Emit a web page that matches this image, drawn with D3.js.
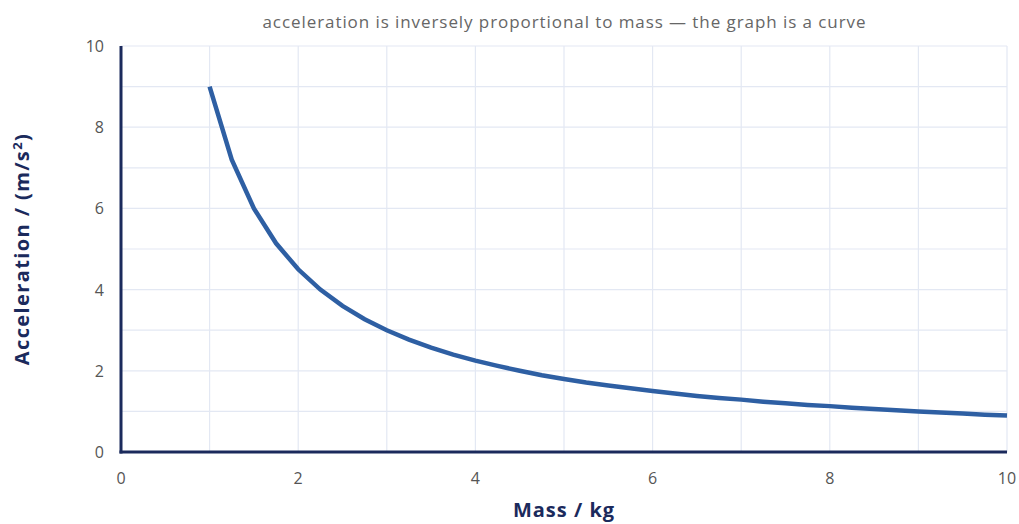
<!DOCTYPE html>
<html>
<head>
<meta charset="utf-8">
<script src="https://cdn.jsdelivr.net/npm/d3@7"></script>
<style>
  body { margin: 0; background: #fff; }
  svg { display: block; font-family: "Open Sans", sans-serif; }
</style>
</head>
<body>
<div id="chart"></div>
<script>
// Данные
const masses = [1, 1.25, 1.5, 1.75, 2, 2.25, 2.5, 2.75, 3, 3.25, 3.5, 3.75, 4, 4.25, 4.5, 4.75,
  5, 5.25, 5.5, 5.75, 6, 6.25, 6.5, 6.75, 7, 7.25, 7.5, 7.75, 8, 8.25, 8.5, 8.75, 9, 9.25, 9.5, 9.75, 10]
const accels = [9, 7.2, 6, 5.14, 4.5, 4, 3.6, 3.27, 3, 2.77, 2.57, 2.4, 2.25, 2.12, 2, 1.89,
  1.8, 1.71, 1.64, 1.57, 1.5, 1.44, 1.38, 1.33, 1.29, 1.24, 1.2, 1.16, 1.13, 1.09, 1.06, 1.03, 1, 0.97, 0.95, 0.92, 0.9]
const xTicks = [0, 2, 4, 6, 8, 10]
const yTicks = [0, 2, 4, 6, 8, 10]
const gridVals = [1, 2, 3, 4, 5, 6, 7, 8, 9, 10]

const W = 1019, H = 524
const mLeft = 121, mRight = 1007, mTop = 46, mBottom = 452

let svg = d3.select("#chart").append("svg")
  .attr("width", W)
  .attr("height", H)

let x = d3.scaleLinear().domain([0, 10]).range([mLeft, mRight])
let y = d3.scaleLinear().domain([0, 10]).range([mBottom, mTop])

// сетка
svg.append("g").selectAll("line").data(gridVals).join("line")
  .attr("x1", d => x(d)).attr("x2", d => x(d))
  .attr("y1", mTop).attr("y2", mBottom)
  .style("stroke", "#e3e8f3").style("stroke-width", 1.2)
svg.append("g").selectAll("line").data(gridVals).join("line")
  .attr("x1", mLeft).attr("x2", mRight)
  .attr("y1", d => y(d)).attr("y2", d => y(d))
  .style("stroke", "#e3e8f3").style("stroke-width", 1.2)

// подписи делений
svg.append("g").selectAll("text").data(yTicks).join("text")
  .attr("x", 104).attr("y", d => y(d) + 6)
  .attr("text-anchor", "end")
  .style("font-size", "16px").style("fill", "#555")
  .text(d => d)
svg.append("g").selectAll("text").data(xTicks).join("text")
  .attr("x", d => x(d)).attr("y", 484)
  .attr("text-anchor", "middle")
  .style("font-size", "16px").style("fill", "#555")
  .text(d => d)

// кривая
let line = d3.line().x((d, i) => x(masses[i])).y(d => y(d))
svg.append("path")
  .datum(accels)
  .attr("d", line)
  .style("fill", "none")
  .style("stroke", "#2e5fa3")
  .style("stroke-width", 4.5)

// оси
svg.append("line")
  .attr("x1", mLeft).attr("x2", mLeft).attr("y1", mTop).attr("y2", mBottom + 1.5)
  .style("stroke", "#1b2a5c").style("stroke-width", 3)
svg.append("line")
  .attr("x1", mLeft - 1.5).attr("x2", mRight).attr("y1", mBottom).attr("y2", mBottom)
  .style("stroke", "#1b2a5c").style("stroke-width", 3)

// заголовки
svg.append("text")
  .attr("x", 564).attr("y", 28)
  .attr("text-anchor", "middle")
  .style("font-size", "17px").style("fill", "#666")
  .attr("textLength", 603).attr("lengthAdjust", "spacing")
  .text("acceleration is inversely proportional to mass — the graph is a curve")

svg.append("text")
  .attr("x", 564).attr("y", 517)
  .attr("text-anchor", "middle")
  .style("font-size", "20px").style("font-weight", "bold").style("fill", "#1b2a5c")
  .style("letter-spacing", "1px")
  .text("Mass / kg")

let yl = svg.append("text")
  .attr("transform", "translate(29,249) rotate(-90)")
  .attr("text-anchor", "middle")
  .style("font-size", "20px").style("font-weight", "bold").style("fill", "#1b2a5c")
  .style("letter-spacing", "1.4px")
yl.append("tspan").text("Acceleration / (m/s")
yl.append("tspan").attr("dy", -7).style("font-size", "13px").text("2")
yl.append("tspan").attr("dy", 7).text(")")
</script>
</body>
</html>
